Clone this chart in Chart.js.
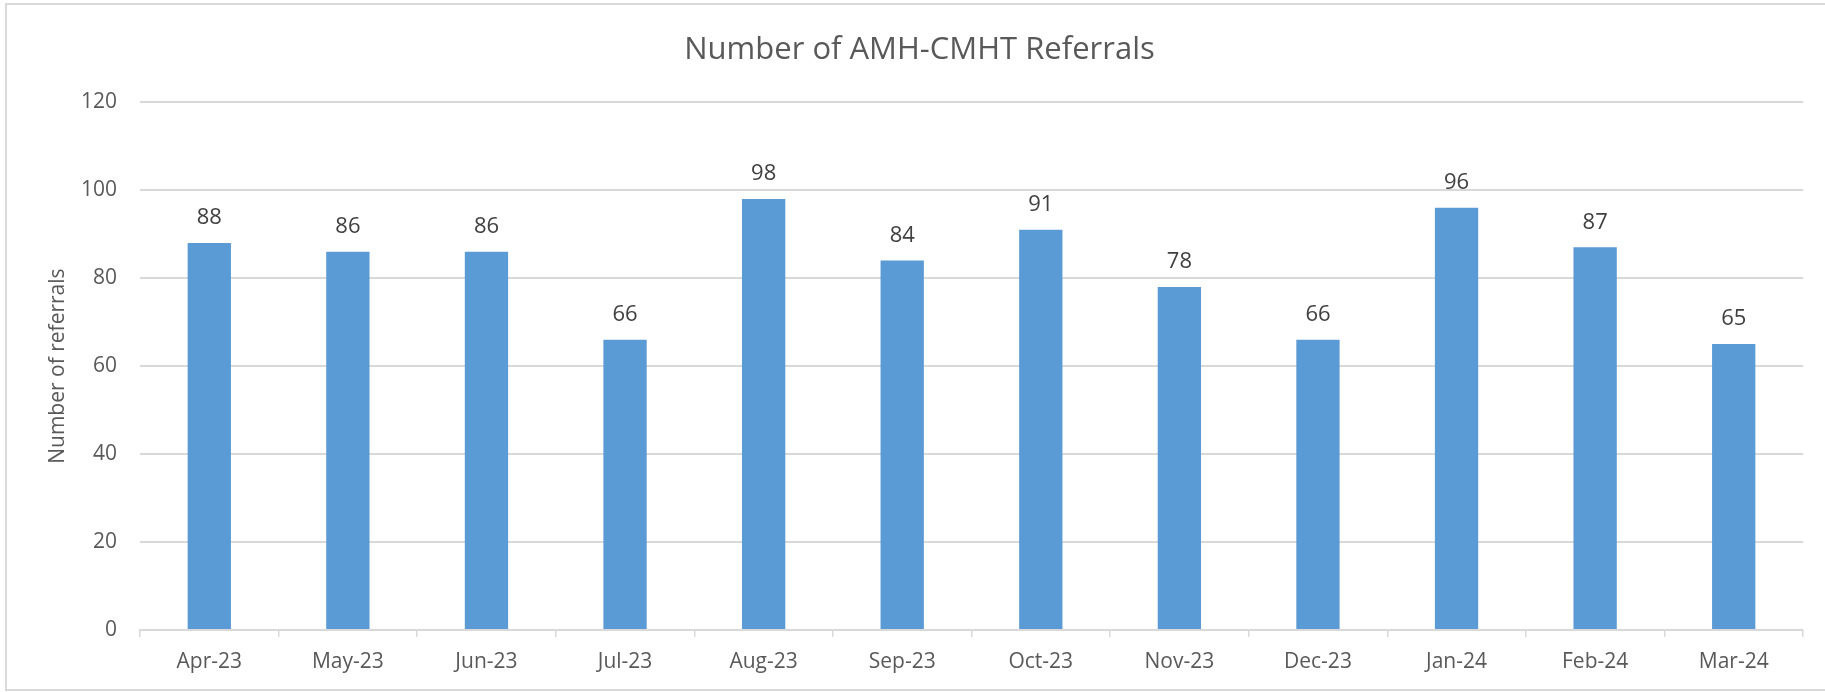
<!DOCTYPE html>
<html>
<head>
<meta charset="utf-8">
<script src="https://cdn.jsdelivr.net/npm/chart.js@4"></script>
<style>
  html, body { margin: 0; padding: 0; background: #ffffff; }
  #wrap { position: relative; width: 1825px; height: 692px; }
  canvas { display: block; }
</style>
</head>
<body>
<div id="wrap"><canvas id="c" width="1825" height="692"></canvas></div>
<script>
const categories = ["Apr-23","May-23","Jun-23","Jul-23","Aug-23","Sep-23","Oct-23","Nov-23","Dec-23","Jan-24","Feb-24","Mar-24"];
const referrals = [88, 86, 86, 66, 98, 84, 91, 78, 66, 96, 87, 65];
const yTicks = [0, 20, 40, 60, 80, 100, 120];

const chartTitle = "Number of AMH-CMHT Referrals";
const yAxisTitle = "Number of referrals";

const FONT = "'Open Sans', 'Noto Sans', sans-serif";
const TEXT = "#595959";
const GRID = "#d9d9d9";

const borderPlugin = {
  id: 'outerBorder',
  beforeDraw(chart) {
    const ctx = chart.ctx;
    ctx.save();
    ctx.strokeStyle = GRID;
    ctx.lineWidth = 2;
    ctx.strokeRect(6, 4, 1840, 686);
    ctx.restore();
  }
};

const valueLabels = {
  id: 'valueLabels',
  afterDatasetsDraw(chart) {
    const ctx = chart.ctx;
    const meta = chart.getDatasetMeta(0);
    ctx.save();
    ctx.font = "22px " + FONT;
    ctx.fillStyle = "#404040";
    ctx.textAlign = "center";
    ctx.textBaseline = "middle";
    meta.data.forEach((bar, i) => {
      ctx.fillText(String(chart.data.datasets[0].data[i]), bar.x, bar.y - 25);
    });
    ctx.restore();
  }
};

new Chart(document.getElementById('c'), {
  type: 'bar',
  data: {
    labels: categories,
    datasets: [{
      label: 'Referrals',
      data: referrals,
      backgroundColor: '#5B9BD5',
      borderWidth: 0,
      categoryPercentage: 1.0,
      barPercentage: 0.3125
    }]
  },
  options: {
    responsive: false,
    animation: false,
    devicePixelRatio: 1,
    layout: { padding: { left: 36, right: 22, top: 0, bottom: 0 } },
    plugins: {
      legend: { display: false },
      tooltip: { enabled: false },
      title: {
        display: true,
        text: chartTitle,
        color: TEXT,
        font: { family: FONT, size: 31, weight: 'normal' },
        padding: { top: 32, bottom: 33 }
      }
    },
    scales: {
      x: {
        grid: {
          display: true,
          drawOnChartArea: false,
          drawTicks: true,
          tickLength: 7,
          color: GRID,
          lineWidth: 1.5,
          offset: true
        },
        border: { display: true, color: GRID, width: 2 },
        ticks: {
          color: TEXT,
          font: { family: FONT, size: 21 },
          padding: 12,
          maxRotation: 0,
          autoSkip: false
        },
        afterFit(scale) { scale.height = 62; }
      },
      y: {
        min: 0,
        max: 120,
        afterBuildTicks(scale) { scale.ticks = yTicks.map(v => ({ value: v })); },
        grid: {
          color: GRID,
          lineWidth: 2,
          drawTicks: false
        },
        border: { display: false },
        ticks: {
          color: TEXT,
          font: { family: FONT, size: 21 },
          padding: 23
        },
        title: {
          display: true,
          text: yAxisTitle,
          color: TEXT,
          font: { family: FONT, size: 21 },
          padding: { top: 9, bottom: 0 }
        },
        afterFit(scale) { scale.width = 104; }
      }
    }
  },
  plugins: [borderPlugin, valueLabels]
});
</script>
</body>
</html>
